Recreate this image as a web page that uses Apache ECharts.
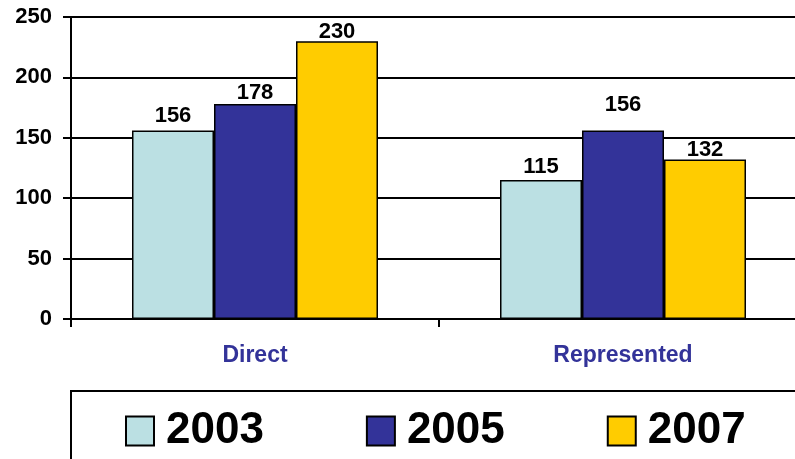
<!DOCTYPE html>
<html>
<head>
<meta charset="utf-8">
<script src="https://cdn.jsdelivr.net/npm/echarts@6/dist/echarts.min.js"></script>
<style>
html,body{margin:0;padding:0;background:#fff;}
#chart{width:795px;height:459px;}
</style>
</head>
<body>
<div id="chart"></div>
<script>
const categories = ['Direct', 'Represented'];
const seriesNames = ['2003', '2005', '2007'];
const values2003 = [156, 115];
const values2005 = [178, 156];
const values2007 = [230, 132];
const yTicks = [0, 50, 100, 150, 200, 250];

const colors = ['#BBE0E3', '#333399', '#FFCC00'];
// vertical label nudges (style only), per series then category
const labelNudge = [[-2, 0], [2, -13], [4, 3]];

const allValues = [values2003, values2005, values2007];
const FONT = 'Arial, "Liberation Sans", Helvetica, sans-serif';

const chart = echarts.init(document.getElementById('chart'));
chart.setOption({
  animation: false,
  backgroundColor: '#fff',
  grid: { left: 71, top: 17, height: 302, right: -12, containLabel: false, outerBoundsMode: 'none' },
  legend: {
    data: seriesNames,
    left: 120,
    top: 404,
    itemWidth: 28,
    itemHeight: 29,
    itemGap: 102,
    icon: 'rect',
    textStyle: { fontSize: 44, fontWeight: 'bold', color: '#000', fontFamily: FONT, padding: [0, 0, 0, 7], lineHeight: 44 }
  },
  xAxis: {
    type: 'category',
    data: categories,
    axisLine: { lineStyle: { color: '#000', width: 2 } },
    axisTick: { show: true, length: 8, lineStyle: { color: '#000', width: 2 } },
    axisLabel: { color: '#333399', fontWeight: 'bold', fontSize: 23, fontFamily: FONT, margin: 25 }
  },
  yAxis: {
    type: 'value',
    min: yTicks[0],
    max: yTicks[yTicks.length - 1],
    interval: yTicks[1] - yTicks[0],
    axisLine: { show: true, lineStyle: { color: '#000', width: 2 } },
    axisTick: { show: true, length: 8, lineStyle: { color: '#000', width: 2 } },
    axisLabel: { color: '#000', fontWeight: 'bold', fontSize: 22, fontFamily: FONT, margin: 19 },
    splitLine: { show: true, lineStyle: { color: '#000', width: 2 } }
  },
  series: seriesNames.map((name, si) => ({
    name: name,
    type: 'bar',
    barWidth: 82,
    barGap: '0%',
    itemStyle: { color: colors[si], borderColor: '#000', borderWidth: 1.5 },
    label: {
      show: true, position: 'top', distance: 2,
      color: '#000', fontWeight: 'bold', fontSize: 22, fontFamily: FONT
    },
    data: allValues[si].map((v, ci) => ({ value: v, label: { offset: [0, labelNudge[si][ci]] } }))
  })),
  graphic: [{
    type: 'rect',
    shape: { x: 71, y: 391, width: 800, height: 100 },
    style: { fill: 'none', stroke: '#000', lineWidth: 2 },
    z: -1
  }]
});
</script>
</body>
</html>
